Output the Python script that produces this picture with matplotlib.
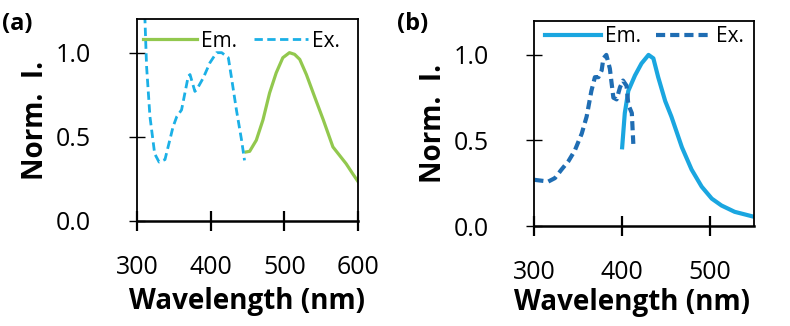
import matplotlib
matplotlib.use("Agg")
import matplotlib.pyplot as plt

plt.rcParams['font.family'] = ['Open Sans', 'DejaVu Sans']

# Panel (a)
a_ex_x = [310, 313, 317.6, 324, 330, 338, 349, 354, 360.5, 369.6, 372, 378.6, 381, 390, 399, 408, 415, 424, 428, 435, 442, 446]
a_ex_y = [1.3, 0.92, 0.62, 0.40, 0.35, 0.365, 0.56, 0.62, 0.66, 0.86, 0.87, 0.77, 0.78, 0.85, 0.94, 1.0, 1.0, 0.97, 0.86, 0.66, 0.48, 0.36]
a_em_x = [448, 453, 462, 471, 480, 489, 498, 507, 514, 521, 530, 541, 553, 566, 575, 584, 593, 600]
a_em_y = [0.41, 0.414, 0.48, 0.60, 0.76, 0.88, 0.97, 1.0, 0.99, 0.96, 0.87, 0.74, 0.60, 0.44, 0.39, 0.34, 0.28, 0.235]

# Panel (b)
b_ex_x = [300, 316, 323.5, 331, 339, 346, 354, 359.6, 365, 369, 373, 376.7, 378.6, 382, 386, 390, 393.7, 397.5, 401, 405, 407, 411, 412.7]
b_ex_y = [0.27, 0.26, 0.28, 0.33, 0.38, 0.44, 0.54, 0.64, 0.79, 0.87, 0.87, 0.91, 0.98, 1.0, 0.92, 0.75, 0.74, 0.81, 0.85, 0.82, 0.71, 0.66, 0.48]
b_em_x = [400, 403, 407, 414.6, 422, 430, 435.5, 441, 449, 456, 468, 479, 490.5, 502, 513, 528, 550]
b_em_y = [0.46, 0.66, 0.79, 0.88, 0.95, 1.0, 0.98, 0.87, 0.73, 0.64, 0.46, 0.33, 0.23, 0.16, 0.12, 0.083, 0.054]

a_xticks = [300, 400, 500, 600]
b_xticks = [300, 400, 500]
yticks = [0.0, 0.5, 1.0]
ytick_labels = ["0.0", "0.5", "1.0"]

fig = plt.figure(figsize=(7.9, 3.26), dpi=100)
axa = fig.add_axes([0.1734, 0.3221, 0.2797, 0.6196])
axb = fig.add_axes([0.6763, 0.3067, 0.2781, 0.6298])

def style(ax, xlim, xticks):
    ax.set_xlim(*xlim)
    ax.set_ylim(0, 1.2)
    ax.set_xticks(xticks)
    ax.set_yticks(yticks)
    ax.set_yticklabels(ytick_labels)
    for s in ax.spines.values():
        s.set_linewidth(1.3)
    ax.spines['bottom'].set_linewidth(1.8)
    ax.tick_params(axis='x', direction='inout', length=15, width=1.6, pad=17, labelsize=18)
    ax.tick_params(axis='y', direction='inout', length=12, width=1.0, pad=27, labelsize=18)
    ax.set_xlabel("Wavelength (nm)", fontsize=20, fontweight='bold', va='top')
    ax.set_ylabel("Norm.  I.", fontsize=20, fontweight='bold', labelpad=4)

axa.plot(a_em_x, a_em_y, color='#92C84E', lw=2.3, label='Em.')
axa.plot(a_ex_x, a_ex_y, color='#1BB0E6', lw=2.0, ls=(0, (3, 1.6)), label='Ex.')
style(axa, (300, 600), a_xticks)
axa.xaxis.set_label_coords(0.5, -0.325)
axa.legend(loc='center left', bbox_to_anchor=(0.027, 0.891), ncol=2, frameon=False, fontsize=15,
           handlelength=2.6, handletextpad=0.2, columnspacing=0.8, borderaxespad=0, borderpad=0)

axb.plot(b_em_x, b_em_y, color='#1AA6E0', lw=3.0, label='Em.')
axb.plot(b_ex_x, b_ex_y, color='#1F6DB3', lw=3.0, ls=(0, (2.2, 1.2)), label='Ex.')
style(axb, (300, 550), b_xticks)
axb.xaxis.set_label_coords(0.445, -0.30)
axb.legend(loc='center left', bbox_to_anchor=(0.049, 0.922), ncol=2, frameon=False, fontsize=15,
           handlelength=2.7, handletextpad=0.2, columnspacing=0.7, borderaxespad=0, borderpad=0)

fig.text(0.003, 0.962, "(a)", fontsize=17, fontweight='bold', va='top', ha='left')
fig.text(0.503, 0.962, "(b)", fontsize=17, fontweight='bold', va='top', ha='left')

fig.savefig("out.png", dpi=100)
